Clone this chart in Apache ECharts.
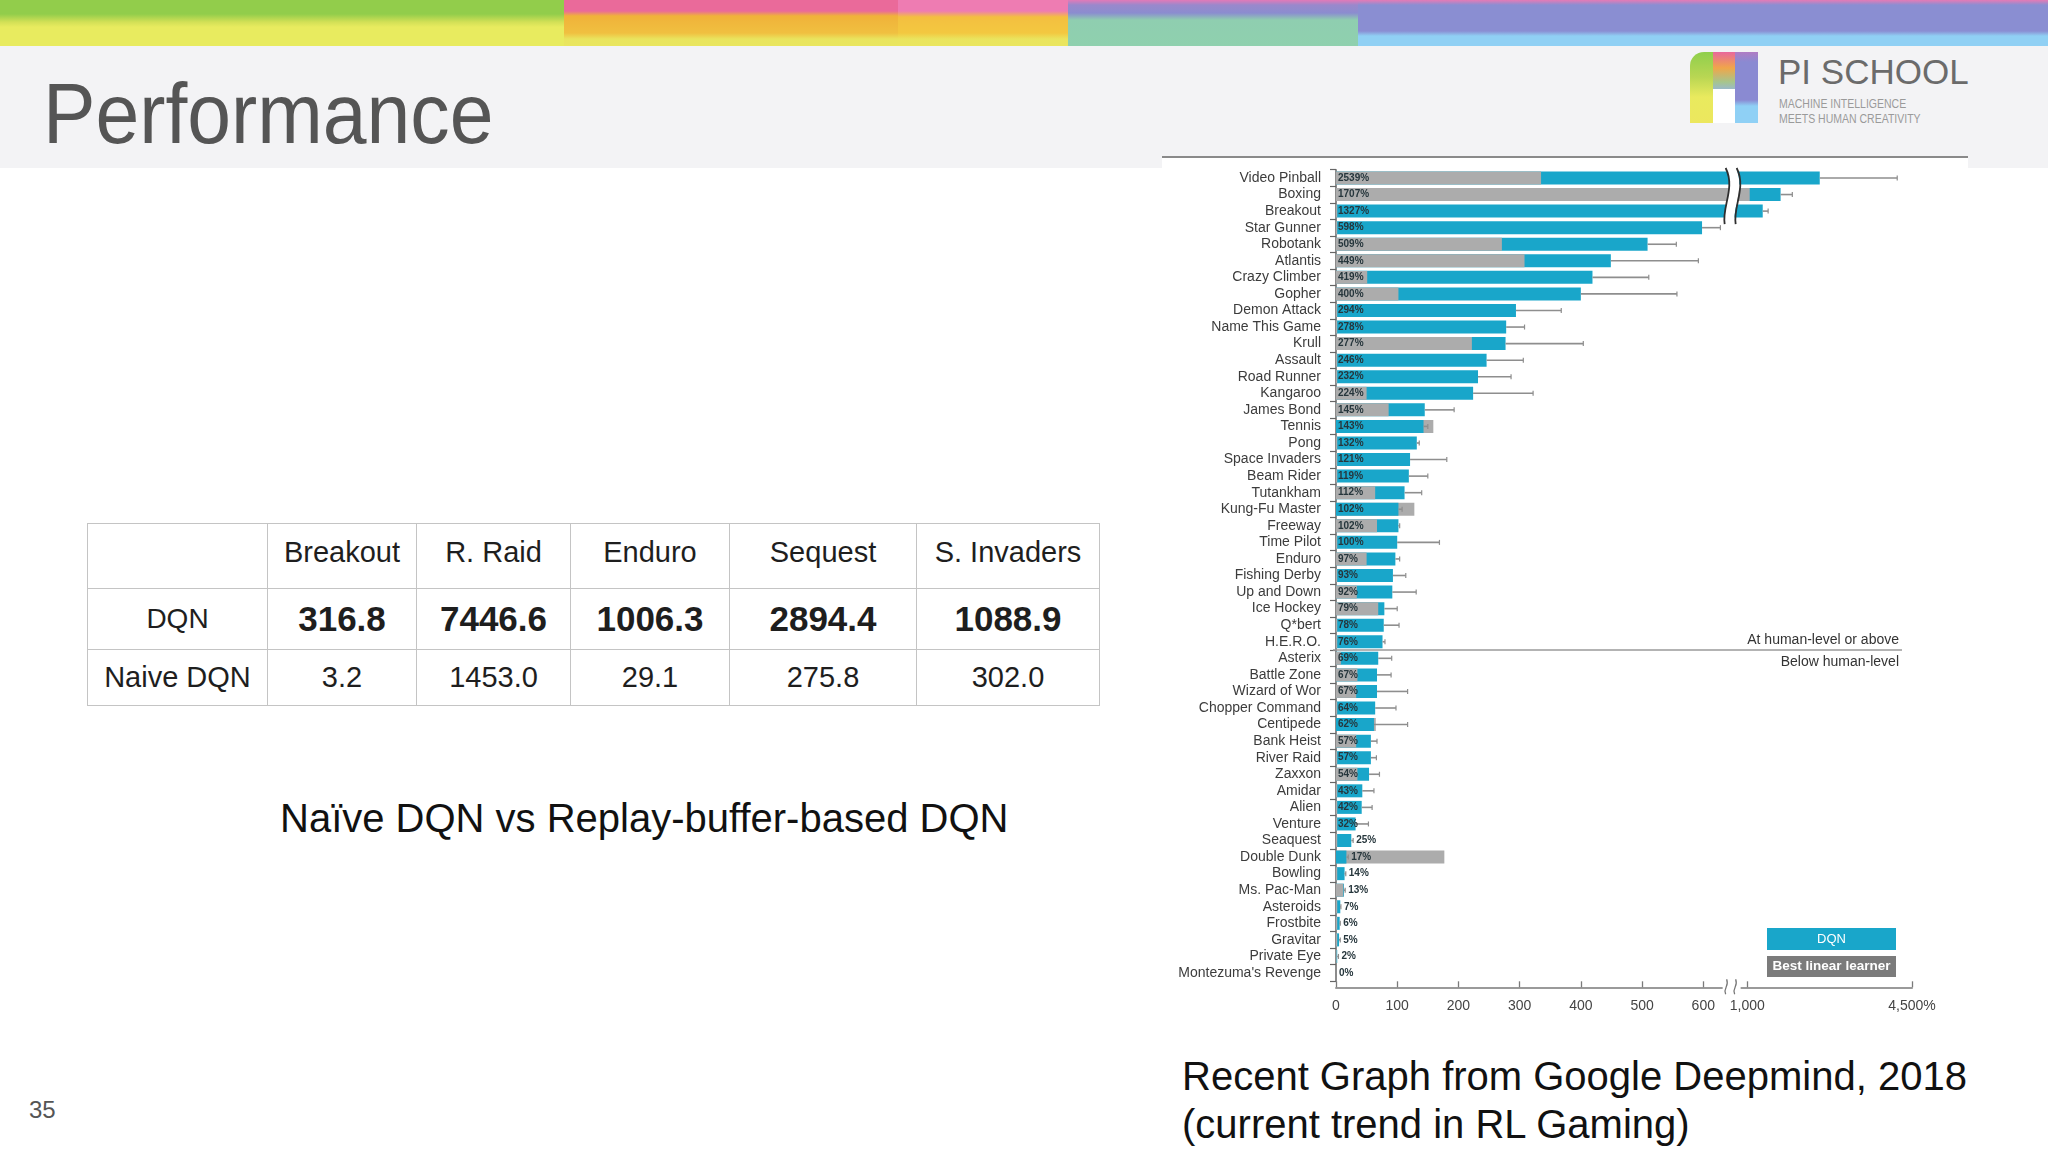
<!DOCTYPE html>
<html>
<head>
<meta charset="utf-8">
<script src="https://cdn.jsdelivr.net/npm/echarts@6/dist/echarts.min.js"></script>
<style>
  html, body { margin:0; padding:0; }
  body { width:2048px; height:1152px; position:relative; overflow:hidden; background:#ffffff; font-family:"Liberation Sans", Arial, sans-serif; }
  .abs { position:absolute; }
  .seg { position:absolute; top:0; height:46px; }
  #header { left:0; top:46px; width:2048px; height:122px; background:#f3f3f5; }
  #title { left:43px; top:70px; font-size:86px; line-height:86px; color:#555555; transform:scaleX(0.915); transform-origin:left top; white-space:nowrap; }
  #chartbg { left:1162px; top:156px; width:806px; height:996px; background:#ffffff; border-top:2px solid #8a8a8a; }
  #logo { left:1690px; top:52px; width:68px; height:71px; }
  #pis { left:1778px; top:52px; font-size:35px; line-height:40px; color:#6b6b6b; white-space:nowrap; }
  .sub { left:1779px; font-size:12.5px; line-height:14px; color:#9a9a9a; white-space:nowrap; transform:scaleX(0.84); transform-origin:left top; }
  table { position:absolute; left:87px; top:523px; border-collapse:collapse; }
  td { border:1.5px solid #c4c4c4; text-align:center; vertical-align:middle; padding:0; color:#1e1e1e; }
  td span { position:relative; }
  .h td { font-size:29px; height:64px; }
  .h td span { top:-4px; }
  .d td { font-size:35px; font-weight:bold; height:60px; }
  .d td.lab { font-size:28px; font-weight:normal; }
  .n td { font-size:29px; height:55px; }
  #cap1 { left:280px; top:796px; font-size:40px; line-height:44px; color:#111; white-space:nowrap; }
  #cap2 { left:1182px; top:1052px; font-size:40px; line-height:48px; color:#111; white-space:nowrap; }
  #pnum { left:29px; top:1097px; font-size:24px; line-height:26px; color:#555; }
  #chart { position:absolute; left:0; top:0; width:2048px; height:1152px; }
</style>
</head>
<body>
<div class="seg" style="left:0;width:564px;background:linear-gradient(to bottom,#92cd4b 0px,#92cd4b 14px,#d2e056 22px,#e8eb5f 27px,#e8eb5f 46px);"></div>
<div class="seg" style="left:564px;width:334px;background:linear-gradient(to bottom,#ea6a9a 0px,#ea6a9a 11px,#f0b23a 16px,#f0c040 33px,#e9e45e 39px,#e9e65f 46px);"></div>
<div class="seg" style="left:898px;width:170px;background:linear-gradient(to bottom,#ee7cb2 0px,#ee7cb2 11px,#f3bf40 17px,#f3c840 33px,#eae45e 39px,#eae65f 46px);"></div>
<div class="seg" style="left:1068px;width:290px;background:linear-gradient(to bottom,#e27ab8 0px,#9a88cc 5px,#8b8dcf 13px,#8fceb0 20px,#8fd0ae 46px);"></div>
<div class="seg" style="left:1358px;width:690px;background:linear-gradient(to bottom,#e57bb6 0px,#8a8ed2 5px,#8a8ed2 31px,#90d0f4 36px,#90d0f4 46px);"></div>
<div id="header" class="abs"></div>
<div id="title" class="abs">Performance</div>
<div id="chartbg" class="abs"></div>

<div id="logo" class="abs">
  <div class="abs" style="left:0;top:0;width:23px;height:71px;border-top-left-radius:14px;background:linear-gradient(to bottom,#8fcf4c 0px,#b9d653 25px,#e9ea5e 45px,#ece75e 71px);"></div>
  <div class="abs" style="left:23px;top:0;width:22px;height:37px;background:linear-gradient(to bottom,#e8689c 0px,#f0a64a 16px,#a6c58c 30px,#9bb9c8 37px);"></div>
  <div class="abs" style="left:45px;top:0;width:23px;height:71px;background:linear-gradient(to bottom,#b07cc4 0px,#8a8ad2 10px,#8a8ad2 48px,#8fd0f5 54px,#8fd0f5 71px);"></div>
  <div class="abs" style="left:23px;top:37px;width:22px;height:34px;background:#ffffff;"></div>
</div>
<div id="pis" class="abs">PI SCHOOL</div>
<div class="abs sub" style="top:97px;">MACHINE INTELLIGENCE</div>
<div class="abs sub" style="top:112px;">MEETS HUMAN CREATIVITY</div>

<table>
  <tr class="h"><td style="width:179px;"></td><td style="width:148px;"><span>Breakout</span></td><td style="width:153px;"><span>R. Raid</span></td><td style="width:158px;"><span>Enduro</span></td><td style="width:186px;"><span>Sequest</span></td><td style="width:182px;"><span>S. Invaders</span></td></tr>
  <tr class="d"><td class="lab">DQN</td><td>316.8</td><td>7446.6</td><td>1006.3</td><td>2894.4</td><td>1088.9</td></tr>
  <tr class="n"><td>Naive DQN</td><td>3.2</td><td>1453.0</td><td>29.1</td><td>275.8</td><td>302.0</td></tr>
</table>

<div id="cap1" class="abs">Naïve DQN vs Replay-buffer-based DQN</div>
<div id="cap2" class="abs">Recent Graph from Google Deepmind, 2018<br>(current trend in RL Gaming)</div>
<div id="pnum" class="abs">35</div>

<div id="chart"></div>

<script>
const games = ["Video Pinball","Boxing","Breakout","Star Gunner","Robotank","Atlantis","Crazy Climber","Gopher","Demon Attack","Name This Game","Krull","Assault","Road Runner","Kangaroo","James Bond","Tennis","Pong","Space Invaders","Beam Rider","Tutankham","Kung-Fu Master","Freeway","Time Pilot","Enduro","Fishing Derby","Up and Down","Ice Hockey","Q*bert","H.E.R.O.","Asterix","Battle Zone","Wizard of Wor","Chopper Command","Centipede","Bank Heist","River Raid","Zaxxon","Amidar","Alien","Venture","Seaquest","Double Dunk","Bowling","Ms. Pac-Man","Asteroids","Frostbite","Gravitar","Private Eye","Montezuma's Revenge"];
const dqnPct = [2539,1707,1327,598,509,449,419,400,294,278,277,246,232,224,145,143,132,121,119,112,102,102,100,97,93,92,79,78,76,69,67,67,64,62,57,57,54,43,42,32,25,17,14,13,7,6,5,2,0];
const linearPct = [335,1050,2,2,271,308,51,102,2,2,222,2,2,50,86,159,2,2,2,64,128,67,2,50,2,34,69,2,2,8,35,33,2,65,33,2,35,2,2,2,2,177,2,12,2,2,2,1,0];
const dqnErrHi = [4186,1956,1442,628,556,592,511,557,368,308,404,306,286,322,193,150,136,181,150,140,108,104,169,104,114,131,100,103,80,91,90,117,98,117,67,66,71,62,59,53,28,20,16,15,8,7,7,4,0];
const xTickValues = [0,100,200,300,400,500,600,1000,4500];
const xTickLabels = ["0","100","200","300","400","500","600","1,000","4,500%"];
const humanLevelAfter = "H.E.R.O.";

// broken axis: linear to 640, compressed segment 1000..4500
function brk(v){
  if (v <= 640) return v;
  if (v >= 1000) return 672 + (v - 1000) * (269 / 3500);
  return 640 + (v - 640) * (32 / 360);
}
const tickMapped = xTickValues.map(brk);
const FONT = '"Liberation Sans", Arial, sans-serif';
const BLUE = '#19a6ca';
const GRAY = '#acacac';

const chart = echarts.init(document.getElementById('chart'), null, {renderer:'canvas', width:2048, height:1152});

// the shorter of the two bars is drawn in front
const grayBack = linearPct.map((v, i) => v > dqnPct[i] ? brk(v) : '-');
const grayFront = linearPct.map((v, i) => v <= dqnPct[i] ? brk(v) : '-');

const labelData = dqnPct.map((v, i) => {
  if (v >= 30) {
    return { value: brk(v), label: { position: 'insideLeft', distance: 2 } };
  }
  return { value: brk(dqnErrHi[i]), label: { position: 'right', distance: 3 } };
});

chart.setOption({
  animation: false,
  backgroundColor: 'transparent',
  textStyle: { fontFamily: FONT },
  grid: { left: 1336, width: 576, top: 169.7, height: 811.6, containLabel: false },
  xAxis: {
    type: 'value', min: 0, max: brk(4500), offset: 6,
    axisLine: { show: true, lineStyle: { color: '#9a9a9a', width: 2 } },
    axisTick: { show: true, inside: true, length: 6, customValues: tickMapped, lineStyle: { color: '#7a7a7a', width: 1.3 } },
    axisLabel: {
      customValues: tickMapped, margin: 12, color: '#444', fontSize: 14, fontFamily: FONT,
      formatter: function (val) {
        for (let i = 0; i < tickMapped.length; i++) if (Math.abs(tickMapped[i] - val) < 0.5) return xTickLabels[i];
        return '';
      }
    },
    splitLine: { show: false }
  },
  yAxis: {
    type: 'category', data: games, inverse: true, offset: 3,
    axisLine: { show: true, lineStyle: { color: '#666', width: 1.5 } },
    axisTick: { show: true, length: 6, lineStyle: { color: '#666', width: 1.2 } },
    axisLabel: { color: '#3c3c3c', fontSize: 14, margin: 12, fontFamily: FONT, interval: 0 },
    splitLine: { show: false }
  },
  series: [
    { type: 'bar', name: 'Best linear learner (behind)', data: grayBack, barWidth: 13, barGap: '-100%', z: 1, silent: true,
      itemStyle: { color: GRAY } },
    { type: 'bar', name: 'DQN', data: dqnPct.map(brk), barWidth: 13, barGap: '-100%', z: 2, silent: true,
      itemStyle: { color: BLUE } },
    { type: 'bar', name: 'Best linear learner', data: grayFront, barWidth: 13, barGap: '-100%', z: 3, silent: true,
      itemStyle: { color: GRAY } },
    { type: 'custom', name: 'sd', z: 4, silent: true,
      data: dqnPct.map((v, i) => [brk(v), brk(dqnErrHi[i]), i]),
      encode: { x: [0, 1], y: 2 },
      renderItem: function (params, api) {
        const c = api.value(2);
        const p0 = api.coord([api.value(0), c]);
        const p1 = api.coord([api.value(1), c]);
        if (p1[0] - p0[0] < 0.5) return null;
        return { type: 'group', children: [
          { type: 'line', shape: { x1: p0[0], y1: p0[1], x2: p1[0], y2: p1[1] }, style: { stroke: '#8e8e8e', lineWidth: 1.6 } },
          { type: 'line', shape: { x1: p1[0], y1: p1[1] - 2.5, x2: p1[0], y2: p1[1] + 2.5 }, style: { stroke: '#8e8e8e', lineWidth: 1.2 } }
        ]};
      }
    },
    { type: 'bar', name: 'labels', data: labelData, barWidth: 13, barGap: '-100%', z: 5, silent: true,
      itemStyle: { color: 'rgba(0,0,0,0)' },
      label: { show: true, fontSize: 10, fontWeight: 'bold', color: '#26363c', fontFamily: FONT,
        formatter: function (p) { return dqnPct[p.dataIndex] + '%'; } }
    }
  ]
});

// decorations positioned through the chart's own scales
const pt = (x, c) => chart.convertToPixel({ gridIndex: 0 }, [x, c]);
const band = pt(0, 1)[1] - pt(0, 0)[1];
const hIdx = games.indexOf(humanLevelAfter);
const yHuman = (pt(0, hIdx)[1] + pt(0, hIdx + 1)[1]) / 2;
const xAxisY = pt(0, games.length - 1)[1] + band / 2 + 6;
const xLeft = pt(0, 0)[0] - 3;
const xRight = pt(brk(4500), 0)[0];
const xb = pt(648, 0)[0];
const yTop = pt(0, 0)[1] - 10;
const yBot = pt(0, 2)[1] + 13;

function wave(x, y1, y2, stroke, lw) {
  const hh = y2 - y1;
  return { type: 'bezierCurve', z: 20,
    shape: { x1: x - 2, y1: y1, cpx1: x + 8, cpy1: y1 + hh * 0.35, cpx2: x - 6, cpy2: y1 + hh * 0.7, x2: x - 3, y2: y2 },
    style: { stroke: stroke, lineWidth: lw, fill: null } };
}

const g = [
  { type: 'line', z: 10, shape: { x1: xLeft, y1: yHuman, x2: xRight - 10, y2: yHuman }, style: { stroke: '#9a9a9a', lineWidth: 1.6 } },
  { type: 'text', z: 10, style: { x: xRight - 13, y: yHuman - 10, text: 'At human-level or above', align: 'right', verticalAlign: 'middle', fontSize: 14, fill: '#333', fontFamily: FONT } },
  { type: 'text', z: 10, style: { x: xRight - 13, y: yHuman + 12, text: 'Below human-level', align: 'right', verticalAlign: 'middle', fontSize: 14, fill: '#333', fontFamily: FONT } },
  // bar break
  wave(xb, yTop, yBot, '#ffffff', 10),
  wave(xb - 5, yTop, yBot, '#2e2e2e', 1.8),
  wave(xb + 6, yTop, yBot, '#2e2e2e', 1.8),
  // axis break
  { type: 'rect', z: 20, shape: { x: xb - 10, y: xAxisY - 3, width: 18, height: 6 }, style: { fill: '#ffffff' } },
  { type: 'bezierCurve', z: 21, shape: { x1: xb - 7, y1: xAxisY + 7, cpx1: xb - 10, cpy1: xAxisY, cpx2: xb - 3, cpy2: xAxisY, x2: xb - 6, y2: xAxisY - 8 }, style: { stroke: '#777', lineWidth: 1.3, fill: null } },
  { type: 'bezierCurve', z: 21, shape: { x1: xb + 2, y1: xAxisY + 7, cpx1: xb - 1, cpy1: xAxisY, cpx2: xb + 6, cpy2: xAxisY, x2: xb + 3, y2: xAxisY - 8 }, style: { stroke: '#777', lineWidth: 1.3, fill: null } },
  // legend
  { type: 'rect', z: 10, shape: { x: 1767, y: 928, width: 129, height: 22 }, style: { fill: BLUE } },
  { type: 'text', z: 11, style: { x: 1831.5, y: 939, text: 'DQN', align: 'center', verticalAlign: 'middle', fontSize: 13, fill: '#ffffff', fontFamily: FONT } },
  { type: 'rect', z: 10, shape: { x: 1767, y: 956, width: 129, height: 21 }, style: { fill: '#7b7b7b' } },
  { type: 'text', z: 11, style: { x: 1831.5, y: 966.5, text: 'Best linear learner', align: 'center', verticalAlign: 'middle', fontSize: 13.5, fontWeight: 'bold', fill: '#ffffff', fontFamily: FONT } }
];
chart.setOption({ graphic: g });
</script>
</body>
</html>
